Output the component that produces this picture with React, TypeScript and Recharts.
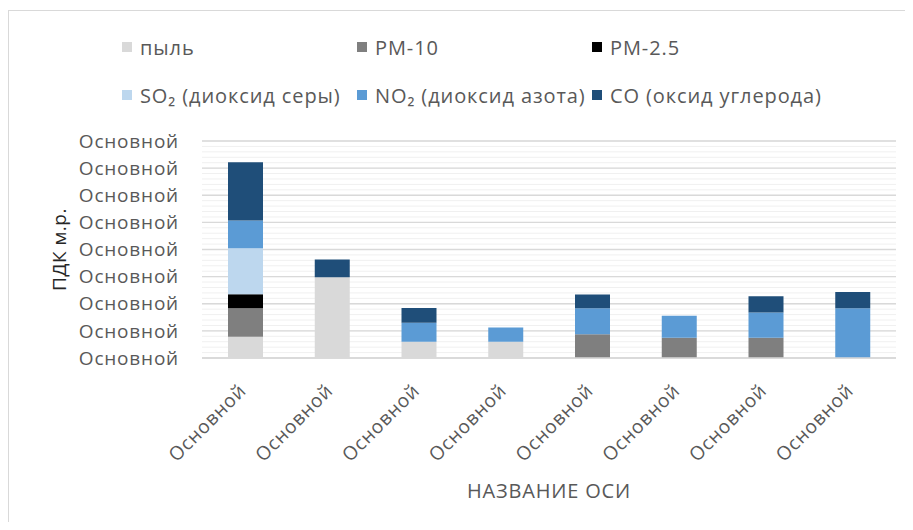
import React from 'react'
import { BarChart, Bar, XAxis, YAxis, CartesianGrid } from 'recharts'

const FONT = '"Open Sans", sans-serif'
const TEXT = '#595959'

const categories = ['Основной', 'Основной', 'Основной', 'Основной', 'Основной', 'Основной', 'Основной', 'Основной']
const dust = [0.78, 2.98, 0.6, 0.6, 0, 0, 0, 0]
const pm10 = [1.05, 0, 0, 0, 0.88, 0.75, 0.75, 0]
const pm25 = [0.52, 0, 0, 0, 0, 0, 0, 0]
const so2 = [1.7, 0, 0, 0, 0, 0, 0, 0]
const no2 = [1.02, 0, 0.7, 0.52, 0.95, 0.81, 0.93, 1.83]
const co = [2.15, 0.65, 0.54, 0, 0.51, 0, 0.6, 0.6]

const yTicks = [0, 1, 2, 3, 4, 5, 6, 7, 8]
const yTickLabel = 'Основной'
const minorTicks = Array.from({ length: 41 }, (_, i) => i * 0.2)

const series = [
  { key: 'dust', name: 'пыль', color: '#D9D9D9' },
  { key: 'pm10', name: 'PM-10', color: '#7F7F7F' },
  { key: 'pm25', name: 'PM-2.5', color: '#000000' },
  { key: 'so2', name: 'SO₂ (диоксид серы)', color: '#BDD7EE' },
  { key: 'no2', name: 'NO₂ (диоксид азота)', color: '#5B9BD5' },
  { key: 'co', name: 'CO (оксид углерода)', color: '#1F4E79' },
]

const data = categories.map((c, i) => ({
  name: c,
  dust: dust[i],
  pm10: pm10[i],
  pm25: pm25[i],
  so2: so2[i],
  no2: no2[i],
  co: co[i],
}))

const XTick = ({ x, y, payload }: any) => {
  const ax = x + 2
  const ay = y + 34
  return (
    <text x={ax} y={ay} transform={`rotate(-45 ${ax} ${ay})`} textAnchor="end"
      fill={TEXT} fontSize={19} fontFamily={FONT} letterSpacing={0.8}>
      {payload.value}
    </text>
  )
}

const Legend6 = () => (
  <div style={{ position: 'absolute', left: 114, top: 26, width: 760, display: 'grid', gridTemplateColumns: '235px 235px 235px', rowGap: 22, fontFamily: FONT, fontSize: 20, letterSpacing: 0.9, color: TEXT }}>
    {series.map(s => (
      <div key={s.key} style={{ display: 'flex', alignItems: 'center', height: 26, whiteSpace: 'nowrap' }}>
        <span style={{ width: 10, height: 10, background: s.color, marginRight: 8, flex: 'none' }} />
        {s.name}
      </div>
    ))}
  </div>
)

export default function App() {
  return (
    <div style={{ position: 'relative', width: 905, height: 514, overflow: 'hidden', background: '#fff' }}>
      <div style={{ position: 'absolute', left: 0, top: 2, width: 1200, height: 1200, borderTop: '1px solid #D9D9D9', borderLeft: '1px solid #D9D9D9' }} />
      <Legend6 />
      <BarChart width={905} height={514} data={data} margin={{ top: 133, right: 17, left: 0, bottom: 0 }} barSize={35}>
        <CartesianGrid horizontal vertical={false} horizontalValues={minorTicks} stroke="#F0F0F0" strokeWidth={1} />
        <CartesianGrid horizontal vertical={false} horizontalValues={yTicks} stroke="#D9D9D9" strokeWidth={1.3} />
        <XAxis dataKey="name" height={164} interval={0} tick={<XTick />} tickLine={false} tickSize={0} tickMargin={0}
          axisLine={{ stroke: '#D9D9D9', strokeWidth: 1.3 }}
          label={{ value: 'НАЗВАНИЕ ОСИ', position: 'insideBottom', offset: 24, fill: TEXT, fontSize: 20, fontFamily: FONT, letterSpacing: 0.8 }} />
        <YAxis width={194} domain={[0, 8]} ticks={yTicks} interval={0} axisLine={false} tickLine={false} tickSize={0} tickMargin={23}
          tickFormatter={() => yTickLabel} tick={{ fill: TEXT, fontSize: 19, fontFamily: FONT, letterSpacing: 0.8 }}
          label={{ value: 'ПДК м.р.', angle: -90, position: 'insideLeft', offset: 51, fill: '#262626', fontSize: 19, fontFamily: FONT, letterSpacing: 0.5, style: { textAnchor: 'middle' } }} />
        {series.map(s => (
          <Bar key={s.key} dataKey={s.key} name={s.name} stackId="a" fill={s.color} isAnimationActive={false} />
        ))}
      </BarChart>
    </div>
  )
}
